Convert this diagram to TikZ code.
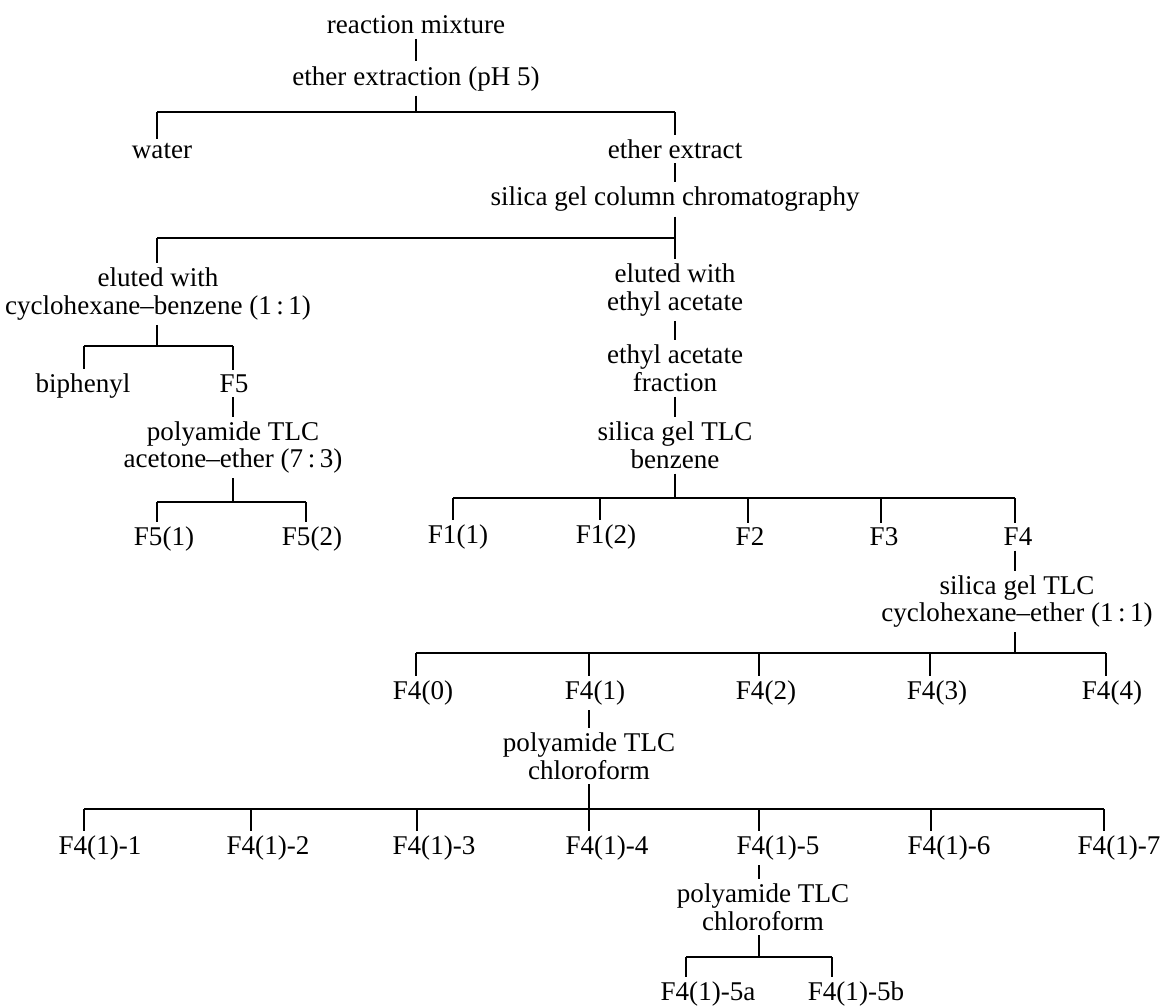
\documentclass[tikz,border=0pt]{standalone}
\usepackage{fontspec}
\setmainfont{Liberation Serif}
\tikzset{
  txt/.style={inner sep=2.5pt, align=center, font=\fontsize{15.4}{15.8}\selectfont},
  ast/.style={line width=0.8pt}
}
\begin{document}
\begin{tikzpicture}
  \useasboundingbox (0,0) rectangle (23.3,-20.12);

  % Ausgangsgemisch und Extraktion
  \node[txt] (mix) at (8.32,-0.50) {reaction mixture};
  \node[txt] (extr) at (8.32,-1.57) {ether extraction (pH 5)};
  \draw[ast] (mix) -- (extr);
  \coordinate (b1l) at (3.14,-2.24);
  \coordinate (b1r) at (13.50,-2.24);
  \draw[ast] (extr) -- (extr |- b1l);
  \draw[ast] (b1l) -- (b1r);
  \node[txt] (water) at (3.24,-3.03) {water};
  \node[txt] (etex) at (13.50,-2.98) {ether extract};
  \draw[ast] (b1l) -- (b1l |- water.north);
  \draw[ast] (b1r) -- (etex);

  % Saeulenchromatographie
  \node[txt] (col) at (13.50,-3.99) {silica gel column chromatography};
  \draw[ast] (etex) -- (col);
  \coordinate (b2l) at (3.14,-4.76);
  \coordinate (b2r) at (13.50,-4.76);
  \draw[ast] (b2l) -- (b2r);
  \node[txt] (elcb) at (3.16,-5.88) {eluted with\\cyclohexane–benzene (1\,:\,1)};
  \node[txt] (elea) at (13.50,-5.80) {eluted with\\ethyl acetate};
  \draw[ast] (b2l) -- (b2l |- elcb.north);
  \draw[ast] (col) -- (elea);

  % linker Zweig
  \coordinate (b3l) at (1.68,-6.92);
  \coordinate (b3r) at (4.66,-6.92);
  \draw[ast] (b2l |- elcb.south) -- (b2l |- b3l);
  \draw[ast] (b3l) -- (b3r);
  \node[txt] (biph) at (1.66,-7.72) {biphenyl};
  \node[txt] (ff5) at (4.68,-7.67) {F5};
  \draw[ast] (b3l) -- (b3l |- biph.north);
  \draw[ast] (b3r) -- (b3r |- ff5.north);
  \node[txt] (paae) at (4.66,-8.95) {polyamide TLC\\acetone–ether (7\,:\,3)};
  \draw[ast] (b3r |- ff5.south) -- (paae);
  \coordinate (b4l) at (3.14,-10.04);
  \coordinate (b4r) at (6.12,-10.04);
  \draw[ast] (paae) -- (paae |- b4l);
  \draw[ast] (b4l) -- (b4r);
  \node[txt] (f51) at (3.28,-10.78) {F5(1)};
  \node[txt] (f52) at (6.24,-10.78) {F5(2)};
  \draw[ast] (b4l) -- (b4l |- f51.north);
  \draw[ast] (b4r) -- (b4r |- f52.north);

  % rechter Zweig
  \node[txt] (eaf) at (13.50,-7.37) {ethyl acetate\\fraction};
  \node[txt] (sgb) at (13.50,-8.91) {silica gel TLC\\benzene};
  \draw[ast] (elea) -- (eaf);
  \draw[ast] (eaf) -- (sgb);
  \coordinate (b5l) at (9.06,-9.96);
  \coordinate (b5r) at (20.30,-9.96);
  \coordinate (j12) at (12.00,-9.96);
  \coordinate (j2) at (14.96,-9.96);
  \coordinate (j3) at (17.62,-9.96);
  \draw[ast] (sgb) -- (sgb |- b5l);
  \draw[ast] (b5l) -- (b5r);
  \node[txt] (f11) at (9.16,-10.74) {F1(1)};
  \node[txt] (f12) at (12.12,-10.74) {F1(2)};
  \node[txt] (ff2) at (15.00,-10.74) {F2};
  \node[txt] (ff3) at (17.68,-10.74) {F3};
  \node[txt] (ff4) at (20.36,-10.74) {F4};
  \draw[ast] (b5l) -- (b5l |- f11.north) (j12) -- (j12 |- f12.north)
    (j2) -- (j2 |- ff2.north) (j3) -- (j3 |- ff3.north) (b5r) -- (b5r |- ff4.north);

  % Fraktion F4
  \node[txt] (sgc) at (20.34,-12.03) {silica gel TLC\\cyclohexane–ether (1\,:\,1)};
  \draw[ast] (b5r |- ff4.south) -- (b5r |- sgc.north);
  \coordinate (b6l) at (8.32,-13.06);
  \coordinate (b6r) at (22.12,-13.06);
  \coordinate (j41) at (11.78,-13.06);
  \coordinate (j42) at (15.18,-13.06);
  \coordinate (j43) at (18.60,-13.06);
  \draw[ast] (b5r |- sgc.south) -- (b5r |- b6l);
  \draw[ast] (b6l) -- (b6r);
  \node[txt] (f40) at (8.46,-13.86) {F4(0)};
  \node[txt] (f41) at (11.90,-13.86) {F4(1)};
  \node[txt] (f42) at (15.32,-13.86) {F4(2)};
  \node[txt] (f43) at (18.74,-13.86) {F4(3)};
  \node[txt] (f44) at (22.24,-13.86) {F4(4)};
  \draw[ast] (b6l) -- (b6l |- f40.north) (j41) -- (j41 |- f41.north)
    (j42) -- (j42 |- f42.north) (j43) -- (j43 |- f43.north) (b6r) -- (b6r |- f44.north);

  % Fraktion F4(1)
  \node[txt] (pcl) at (11.78,-15.12) {polyamide TLC\\chloroform};
  \draw[ast] (j41 |- f41.south) -- (pcl);
  \coordinate (b7l) at (1.68,-16.18);
  \coordinate (b7r) at (22.08,-16.18);
  \coordinate (k2) at (5.02,-16.18);
  \coordinate (k3) at (8.34,-16.18);
  \coordinate (k4) at (11.78,-16.18);
  \coordinate (k5) at (15.18,-16.18);
  \coordinate (k6) at (18.62,-16.18);
  \draw[ast] (pcl) -- (pcl |- b7l);
  \draw[ast] (b7l) -- (b7r);
  \node[txt] (g1) at (2.00,-16.96) {F4(1)-1};
  \node[txt] (g2) at (5.36,-16.96) {F4(1)-2};
  \node[txt] (g3) at (8.68,-16.96) {F4(1)-3};
  \node[txt] (g4) at (12.14,-16.96) {F4(1)-4};
  \node[txt] (g5) at (15.56,-16.96) {F4(1)-5};
  \node[txt] (g6) at (18.98,-16.96) {F4(1)-6};
  \node[txt] (g7) at (22.38,-16.96) {F4(1)-7};
  \draw[ast] (b7l) -- (b7l |- g1.north) (k2) -- (k2 |- g2.north) (k3) -- (k3 |- g3.north)
    (k4) -- (k4 |- g4.north) (k5) -- (k5 |- g5.north) (k6) -- (k6 |- g6.north)
    (b7r) -- (b7r |- g7.north);

  % Fraktion F4(1)-5
  \node[txt] (pcl5) at (15.26,-18.14) {polyamide TLC\\chloroform};
  \draw[ast] (k5 |- g5.south) -- (k5 |- pcl5.north);
  \coordinate (b8l) at (13.72,-19.14);
  \coordinate (b8r) at (16.64,-19.14);
  \draw[ast] (k5 |- pcl5.south) -- (k5 |- b8l);
  \draw[ast] (b8l) -- (b8r);
  \node[txt] (g5a) at (14.16,-19.88) {F4(1)-5a};
  \node[txt] (g5b) at (17.12,-19.88) {F4(1)-5b};
  \draw[ast] (b8l) -- (b8l |- g5a.north) (b8r) -- (b8r |- g5b.north);
\end{tikzpicture}
\end{document}
